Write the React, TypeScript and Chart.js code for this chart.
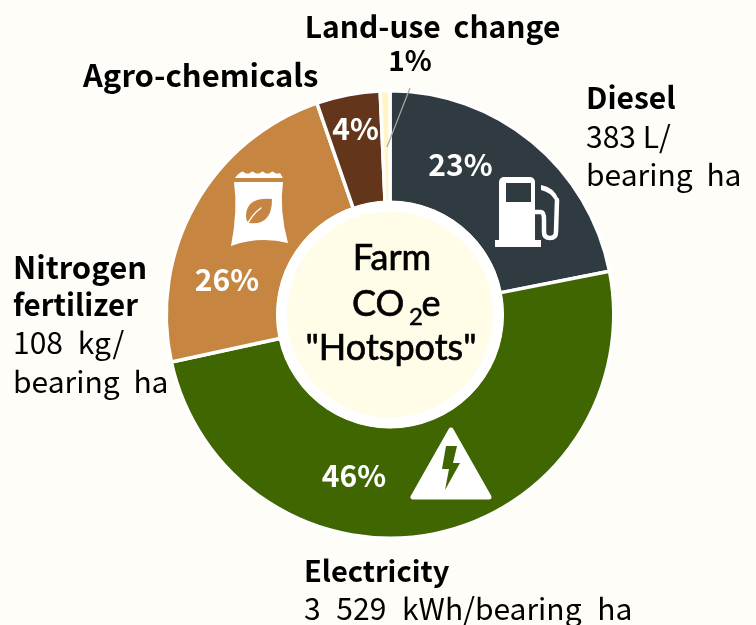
import React, { useEffect, useRef } from "react";
import { Chart, registerables } from "chart.js";

Chart.register(...registerables);

const categories = ["Diesel", "Electricity", "Nitrogen fertilizer", "Agro-chemicals", "Land-use change"];
const sliceValues = [21.9, 49.7, 23.1, 4.6, 0.7];
const percentLabels = ["23%", "46%", "26%", "4%", "1%"];
const sliceColors = ["#2F3A41", "#3F6600", "#C68642", "#63361B", "#FFF6C4"];
const centerLines = ["Farm", "CO", "\"Hotspots\""];

const PAGE_BG = "#FFFDF7";
const FONT = '"Noto Sans CJK KR", "Noto Sans", sans-serif';
const CENTER_FONT = 'Lato, "Noto Sans", sans-serif';

function text(ctx: any, s: string, x: number, y: number, font: string, color = "#000", align = "left", ws = "6px", heavy = 0) {
  ctx.font = font;
  ctx.fillStyle = color;
  ctx.textAlign = align;
  ctx.textBaseline = "middle";
  ctx.wordSpacing = ws;
  ctx.fillText(s, x, y);
  if (heavy) {
    ctx.strokeStyle = color;
    ctx.lineWidth = heavy;
    ctx.strokeText(s, x, y);
  }
  ctx.wordSpacing = "0px";
}

function drawIcons(ctx: any) {
  ctx.save();
  ctx.fillStyle = "#fff";
  ctx.strokeStyle = "#fff";
  ctx.lineJoin = "round";
  ctx.lineCap = "round";

  // fuel pump
  ctx.beginPath();
  ctx.roundRect(499, 177, 36, 64, [5, 5, 0, 0]);
  ctx.fill();
  ctx.fillRect(495, 240, 46, 7);
  ctx.fillStyle = sliceColors[0];
  ctx.fillRect(506, 183, 25, 19);
  ctx.fillStyle = "#fff";
  ctx.lineWidth = 4.5;
  ctx.beginPath();
  ctx.moveTo(535, 212);
  ctx.lineTo(541, 212);
  ctx.quadraticCurveTo(544, 212, 544, 220);
  ctx.lineTo(544, 232);
  ctx.quadraticCurveTo(544, 238, 550, 238);
  ctx.quadraticCurveTo(556, 238, 556, 232);
  ctx.lineTo(557, 200);
  ctx.stroke();
  ctx.beginPath();
  ctx.moveTo(541, 185);
  ctx.quadraticCurveTo(554, 187, 559, 200);
  ctx.lineTo(555, 200);
  ctx.quadraticCurveTo(550, 192, 541, 190);
  ctx.closePath();
  ctx.fill();

  // fertilizer bag
  ctx.beginPath();
  ctx.moveTo(235, 178);
  [240, 245, 250, 255, 260, 265, 270, 275, 280].forEach((x, i) => {
    ctx.quadraticCurveTo(x - 2.5, i % 2 ? 170 : 174, x, 173);
  });
  ctx.lineTo(283, 178);
  ctx.lineTo(235, 178);
  ctx.closePath();
  ctx.fill();
  ctx.beginPath();
  ctx.moveTo(234, 182);
  ctx.lineTo(283, 182);
  ctx.quadraticCurveTo(279, 210, 288, 243);
  ctx.quadraticCurveTo(259, 236, 231, 246);
  ctx.quadraticCurveTo(238, 210, 234, 182);
  ctx.closePath();
  ctx.fill();
  ctx.fillStyle = sliceColors[2];
  ctx.beginPath();
  ctx.moveTo(272, 199);
  ctx.quadraticCurveTo(246, 197, 246, 216);
  ctx.quadraticCurveTo(246, 221, 249, 223);
  ctx.quadraticCurveTo(272, 226, 272, 199);
  ctx.closePath();
  ctx.fill();
  ctx.strokeStyle = "#fff";
  ctx.lineWidth = 1.5;
  ctx.beginPath();
  ctx.moveTo(246, 227);
  ctx.quadraticCurveTo(252, 214, 261, 208);
  ctx.stroke();

  // electricity triangle
  ctx.fillStyle = "#fff";
  ctx.strokeStyle = "#fff";
  ctx.lineWidth = 5;
  ctx.beginPath();
  ctx.moveTo(451, 430);
  ctx.lineTo(413, 497);
  ctx.lineTo(489, 497);
  ctx.closePath();
  ctx.fill();
  ctx.stroke();
  ctx.fillStyle = sliceColors[1];
  ctx.beginPath();
  ctx.moveTo(446, 446);
  ctx.lineTo(457, 446);
  ctx.lineTo(453, 463);
  ctx.lineTo(460, 463);
  ctx.lineTo(445, 490);
  ctx.lineTo(449, 469);
  ctx.lineTo(442, 469);
  ctx.closePath();
  ctx.fill();
  ctx.restore();
}

const decorations = {
  id: "decorations",
  afterDatasetsDraw(chart: any) {
    const ctx = chart.ctx;
    const arc = chart.getDatasetMeta(0).data[0];
    const cx = arc.x;
    const cy = arc.y;
    ctx.save();

    // hub
    ctx.fillStyle = "#fff";
    ctx.beginPath();
    ctx.arc(cx, cy, 114, 0, Math.PI * 2);
    ctx.fill();
    ctx.fillStyle = "#FFFCE8";
    ctx.beginPath();
    ctx.arc(cx, cy, 103, 0, Math.PI * 2);
    ctx.fill();

    drawIcons(ctx);

    // leader line
    ctx.strokeStyle = "#A6A6A6";
    ctx.lineWidth = 1.25;
    ctx.beginPath();
    ctx.moveTo(410, 88);
    ctx.lineTo(387, 147);
    ctx.stroke();

    // slice percentages
    const pctFont = `bold 30px ${FONT}`;
    text(ctx, percentLabels[0], 460.5, 165, pctFont, "#fff", "center");
    text(ctx, percentLabels[1], 354, 476, pctFont, "#fff", "center");
    text(ctx, percentLabels[2], 227, 280, pctFont, "#fff", "center");
    text(ctx, percentLabels[3], 355.5, 129, pctFont, "#fff", "center");

    // callouts
    const bold = `bold 30px ${FONT}`;
    const reg = `30px ${FONT}`;
    text(ctx, "Land-use change", 432.5, 27, bold, "#000", "center");
    text(ctx, percentLabels[4], 410, 60, `bold 28px ${FONT}`, "#000", "center");
    text(ctx, categories[3], 83, 75, `bold 31px ${FONT}`);
    text(ctx, categories[0], 586, 98, bold);
    text(ctx, "383 L/", 586, 137, reg, "#000", "left", "0px");
    text(ctx, "bearing ha", 586, 175, reg, "#000", "left", "7px");
    text(ctx, "Nitrogen", 13, 267, `bold 31px ${FONT}`);
    text(ctx, "fertilizer", 13, 305, `bold 29.5px ${FONT}`);
    text(ctx, "108 kg/", 13, 343, reg, "#000", "left", "8px");
    text(ctx, "bearing ha", 13, 382, reg, "#000", "left", "7px");
    text(ctx, categories[1], 304, 571, `bold 29px ${FONT}`);
    text(ctx, "3 529 kWh/bearing ha", 304, 609, reg, "#000", "left", "9px");

    // hub title
    const hub = `36px ${CENTER_FONT}`;
    text(ctx, centerLines[0], 392, 258, hub, "#000", "center", "0px", 0.7);
    text(ctx, centerLines[1], 352, 304, hub, "#000", "left", "0px", 0.7);
    text(ctx, "2", 416, 317, `24px ${CENTER_FONT}`, "#000", "center", "0px", 0.5);
    text(ctx, "e", 431, 304, hub, "#000", "center", "0px", 0.7);
    text(ctx, centerLines[2], 391, 348, hub, "#000", "center", "0px", 0.7);
    ctx.restore();
  },
};

export default function App() {
  const ref = useRef<HTMLCanvasElement>(null);
  useEffect(() => {
    document.body.style.margin = "0";
    document.body.style.background = PAGE_BG;
    const chart = new Chart(ref.current as HTMLCanvasElement, {
      type: "doughnut",
      data: {
        labels: categories,
        datasets: [
          {
            data: sliceValues,
            backgroundColor: sliceColors,
            borderColor: "#ffffff",
            borderWidth: 3.5,
          },
        ],
      },
      options: {
        responsive: false,
        animation: false,
        cutout: "50%",
        rotation: 0,
        layout: { padding: { left: 164.5, right: 140.5, top: 89, bottom: 85 } },
        plugins: { legend: { display: false }, tooltip: { enabled: false } },
      },
      plugins: [decorations],
    });
    return () => chart.destroy();
  }, []);
  return (
    <div style={{ width: 756, height: 625, background: PAGE_BG }}>
      <canvas ref={ref} width={756} height={625} style={{ display: "block" }} />
    </div>
  );
}
